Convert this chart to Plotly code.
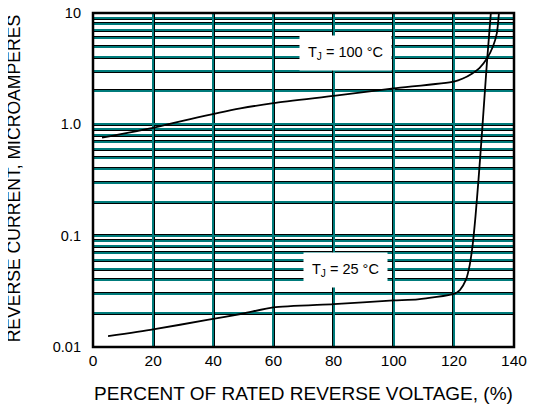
import math
import plotly.graph_objects as go

# Data
x_25 = [5, 20, 38, 50, 60, 80, 100, 108, 120, 122, 124, 125.3, 126.3, 127.2, 128.2, 129.3, 131, 132.3]
y_25 = [0.0125, 0.0144, 0.0175, 0.020, 0.0227, 0.0243, 0.0262, 0.0268, 0.0300, 0.0325, 0.040, 0.055, 0.085, 0.15, 0.32, 0.80, 3.6, 10]

x_100 = [3, 20, 32, 49, 60, 80, 100, 120, 123, 126, 128.5, 131, 133, 134.3, 135]
y_100 = [0.76, 0.93, 1.11, 1.39, 1.55, 1.80, 2.10, 2.42, 2.58, 2.85, 3.2, 3.9, 5.0, 6.6, 10]

x_ticks = [0, 20, 40, 60, 80, 100, 120, 140]
y_ticks = [0.01, 0.1, 1, 10]
y_ticktext = ["0.01", "0.1", "1.0", "10"]
y_minor = [m * d for d in (0.01, 0.1, 1) for m in range(2, 10)]

labels = ["T<sub>J</sub> = 100 °C", "T<sub>J</sub> = 25 °C"]
label_x = [84, 84]
label_y = [4.35, 0.049]

x_title = "PERCENT OF RATED REVERSE VOLTAGE, (%)"
y_title = "REVERSE CURRENT, MICROAMPERES"

FONT = "Liberation Sans, Arial, sans-serif"
TEAL = "#007b7b"

fig = go.Figure()
# base (black, wide grid) subplot holds an invisible copy
fig.add_trace(go.Scatter(x=x_100, y=y_100, mode="lines", line=dict(color="rgba(0,0,0,0)"),
                         hoverinfo="skip", showlegend=False, xaxis="x", yaxis="y"))
for xs, ys in ((x_25, y_25), (x_100, y_100)):
    fig.add_trace(go.Scatter(x=xs, y=ys, mode="lines",
                             line=dict(color="black", width=1.8, shape="spline", smoothing=0.6),
                             showlegend=False, xaxis="x2", yaxis="y2"))

common_x = dict(range=[0, 140], tickvals=x_ticks, showline=False, zeroline=False, automargin=False)
common_y = dict(type="log", range=[-2, 1], tickvals=y_ticks, zeroline=False, automargin=False)

fig.update_layout(
    width=531, height=396,
    margin=dict(l=85, r=25, t=5, b=57),
    paper_bgcolor="white", plot_bgcolor="white",
    font=dict(family=FONT, size=15, color="black"),
    xaxis=dict(**common_x, showgrid=True, gridcolor="black", gridwidth=3,
               ticks="", tickfont=dict(size=15.5), ticklabelstandoff=2, ticklabeloverflow="allow",
               title=dict(text=x_title, font=dict(size=19), standoff=20)),
    yaxis=dict(**common_y, showgrid=True, gridcolor="black", gridwidth=3,
               ticktext=y_ticktext, ticks="", tickfont=dict(size=14.5), ticklabelstandoff=11,
               ticklabeloverflow="allow",
               minor=dict(tickvals=y_minor, showgrid=True, gridcolor="black", gridwidth=3)),
    xaxis2=dict(**common_x, overlaying="x", anchor="y2", showgrid=True, gridcolor=TEAL, gridwidth=1.6,
                showticklabels=False, ticks=""),
    yaxis2=dict(**common_y, overlaying="y", anchor="x2", showgrid=True, gridcolor=TEAL, gridwidth=1.6,
                showticklabels=False, ticks="",
                minor=dict(tickvals=y_minor, showgrid=True, gridcolor=TEAL, gridwidth=1.6)),
)

# y-axis title placed as rotated text
fig.add_annotation(x=-0.1876, y=0.505, xref="paper", yref="paper", text=y_title, textangle=-90,
                   showarrow=False, xanchor="center", yanchor="middle",
                   font=dict(size=17.6, family=FONT, color="black"))

for t, lx, ly in zip(labels, label_x, label_y):
    fig.add_annotation(x=lx, y=math.log10(ly), xref="x2", yref="y2", text=t, showarrow=False,
                       bgcolor="white", font=dict(size=14.5, family=FONT, color="black"),
                       borderpad=8)

# thick frame
fig.add_shape(type="rect", xref="paper", yref="paper", x0=0, y0=0, x1=1, y1=1,
              line=dict(color="black", width=2.5), layer="above")

fig.write_html("out.html")
